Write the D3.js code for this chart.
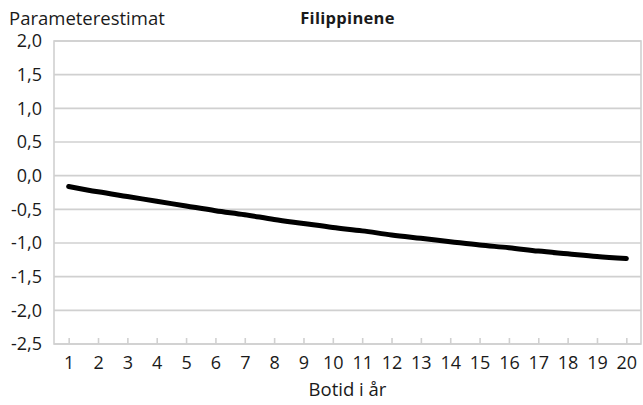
<!DOCTYPE html>
<html><head><meta charset="utf-8">
<script src="https://cdn.jsdelivr.net/npm/d3@7"></script>
<style>body{margin:0;background:#fff}svg{display:block}text{font-family:"Open Sans","Noto Sans",sans-serif;fill:#1a1a1a}</style>
</head><body>
<script>
const categories = d3.range(1, 21).map(String);
const values = [-0.16,-0.24,-0.31,-0.38,-0.45,-0.52,-0.58,-0.65,-0.71,-0.77,-0.82,-0.88,-0.93,-0.98,-1.03,-1.07,-1.12,-1.16,-1.20,-1.23];
const yTicks = [2.0,1.5,1.0,0.5,0.0,-0.5,-1.0,-1.5,-2.0,-2.5];
const title = "Filippinene";
const yTitle = "Parameterestimat";
const xTitle = "Botid i år";

const W = 643, H = 405;
const m = {l:54, r:2, t:41, b:61};
const svg = d3.select("body").append("svg").attr("width", W).attr("height", H);
const x = d3.scalePoint().domain(categories).range([m.l, W - m.r]).padding(0.5);
const y = d3.scaleLinear().domain([-2.5, 2.0]).range([H - m.b, m.t]);
const fmt = v => d3.format(".1f")(v).replace(".", ",").replace("−", "-");

// gridlines
svg.append("g").selectAll("line").data(yTicks).join("line")
  .attr("x1", m.l).attr("x2", W - m.r)
  .attr("y1", d => y(d)).attr("y2", d => y(d))
  .attr("stroke", "#d0d0d0").attr("stroke-width", 1.6);
// box border
svg.append("rect").attr("x", m.l).attr("y", m.t)
  .attr("width", W - m.r - m.l).attr("height", H - m.b - m.t)
  .attr("fill", "none").attr("stroke", "#d0d0d0").attr("stroke-width", 1.6);

// y axis labels
const ya = svg.append("g").attr("transform", `translate(${m.l},0)`)
  .call(d3.axisLeft(y).tickValues(yTicks).tickFormat(fmt).tickSize(0).tickPadding(12));
ya.select(".domain").remove();
ya.selectAll("text").style("font-size", "18px").attr("fill", "#1a1a1a");

// x axis
const xa = svg.append("g").attr("transform", `translate(0,${H - m.b})`)
  .call(d3.axisBottom(x).tickSizeInner(-6).tickSizeOuter(0).tickPadding(12));
xa.select(".domain").remove();
xa.selectAll(".tick line").attr("stroke", "#d0d0d0").attr("stroke-width", 1.6);
xa.selectAll("text").style("font-size", "18px").attr("fill", "#1a1a1a");

// line
svg.append("path").datum(values)
  .attr("fill", "none").attr("stroke", "#000").attr("stroke-width", 5)
  .attr("stroke-linecap", "round").attr("stroke-linejoin", "round")
  .attr("d", d3.line().x((d, i) => x(categories[i])).y(d => y(d)).curve(d3.curveMonotoneX));

// titles
svg.append("text").attr("x", 9).attr("y", 25).style("font-size", "18.5px").text(yTitle);
svg.append("text").attr("x", (m.l + W - m.r) / 2).attr("y", 24).attr("text-anchor", "middle")
  .style("font-size", "16.5px").style("font-weight", "bold").style("letter-spacing", "0.3px").text(title);
svg.append("text").attr("x", (m.l + W - m.r) / 2).attr("y", 396).attr("text-anchor", "middle")
  .style("font-size", "18.5px").text(xTitle);
</script>
</body></html>
